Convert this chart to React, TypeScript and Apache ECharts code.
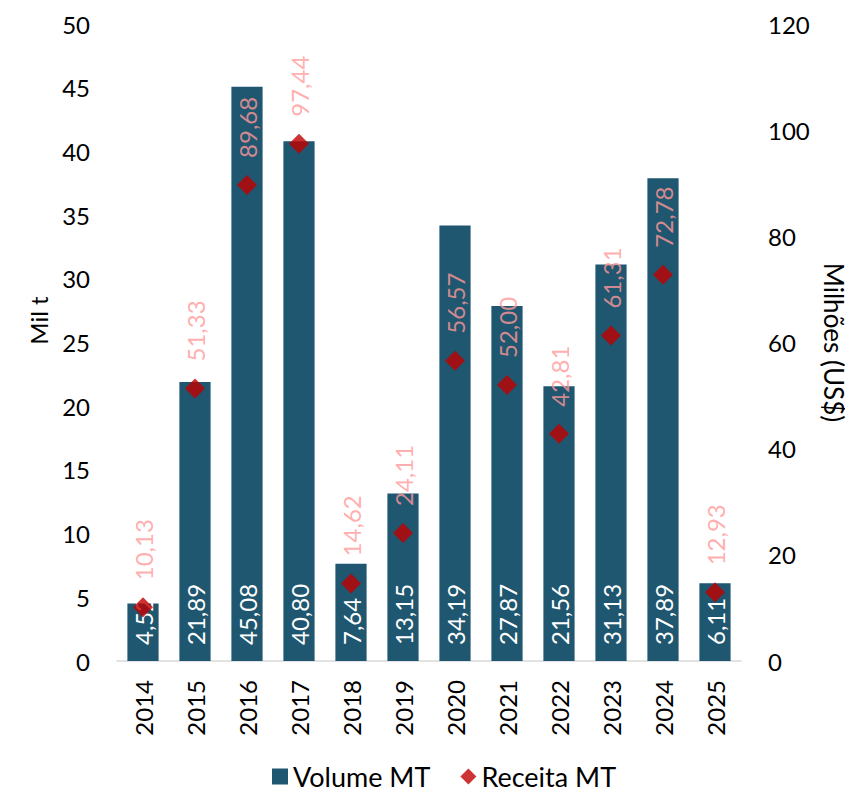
import React, { useEffect, useRef } from "react";
import * as echarts from "echarts";

const years = ["2014", "2015", "2016", "2017", "2018", "2019", "2020", "2021", "2022", "2023", "2024", "2025"];
const volume = [4.52, 21.89, 45.08, 40.8, 7.64, 13.15, 34.19, 27.87, 21.56, 31.13, 37.89, 6.11];
const receita = [10.13, 51.33, 89.68, 97.44, 14.62, 24.11, 56.57, 52.0, 42.81, 61.31, 72.78, 12.93];

const FONT = "Lato, 'Open Sans', sans-serif";
const FS = 24;
const fmt = (v: number) => v.toFixed(2).replace(".", ",");

export default function App() {
  const ref = useRef<HTMLDivElement>(null);
  useEffect(() => {
    const chart = echarts.init(ref.current!, null, { renderer: "svg" });
    chart.setOption({
      animation: false,
      textStyle: { fontFamily: FONT },
      grid: { left: 117, right: 112, top: 24, bottom: 134, outerBoundsMode: "none", containLabel: false },
      legend: {
        bottom: 0,
        left: 267,
        itemWidth: 16,
        itemHeight: 16,
        itemGap: 30,
        textStyle: { fontSize: 27, color: "#000", fontFamily: FONT },
        data: [
          { name: "Volume MT", icon: "rect" },
          { name: "Receita MT", icon: "diamond" },
        ],
      },
      xAxis: {
        type: "category",
        data: years,
        axisLine: { lineStyle: { color: "#d9d9d9", width: 1.5 } },
        axisTick: { show: false },
        axisLabel: { rotate: 90, fontSize: FS, color: "#000", margin: 19, fontFamily: FONT },
      },
      yAxis: [
        {
          type: "value",
          min: 0,
          max: 50,
          interval: 5,
          name: "Mil t",
          nameLocation: "middle",
          nameGap: 67,
          nameTextStyle: { fontSize: FS, color: "#000", fontFamily: FONT, padding: [0, 0, 0, 44] },
          splitLine: { show: false },
          axisLine: { show: false },
          axisLabel: { fontSize: FS, color: "#000", margin: 27, fontFamily: FONT },
        },
        {
          type: "value",
          min: 0,
          max: 120,
          interval: 20,
          name: "Milhões (US$)",
          nameLocation: "middle",
          nameRotate: -90,
          nameGap: 79,
          nameTextStyle: { fontSize: 26, color: "#000", fontFamily: FONT },
          splitLine: { show: false },
          axisLine: { show: false },
          axisLabel: { fontSize: FS, color: "#000", margin: 27, fontFamily: FONT },
        },
      ],
      series: [
        {
          name: "Volume MT",
          type: "bar",
          data: volume,
          barWidth: "60%",
          itemStyle: { color: "#1f5670" },
          label: {
            show: true,
            position: "insideBottom",
            rotate: 90,
            align: "left",
            verticalAlign: "middle",
            distance: 16,
            color: "#fff",
            fontSize: FS,
            fontFamily: FONT,
            formatter: (p: any) => fmt(p.value),
          },
        },
        {
          name: "Receita MT",
          type: "scatter",
          yAxisIndex: 1,
          data: receita,
          symbol: "diamond",
          symbolSize: 20,
          itemStyle: { color: "#c00000" },
          label: {
            show: true,
            position: "top",
            rotate: 90,
            align: "left",
            verticalAlign: "middle",
            distance: 17,
            color: "#ff9999",
            fontSize: FS,
            fontFamily: FONT,
            formatter: (p: any) => fmt(p.value),
          },
        },
      ],
    });
    return () => chart.dispose();
  }, []);
  return <div ref={ref} style={{ width: 853, height: 795, margin: -8 }} />;
}
